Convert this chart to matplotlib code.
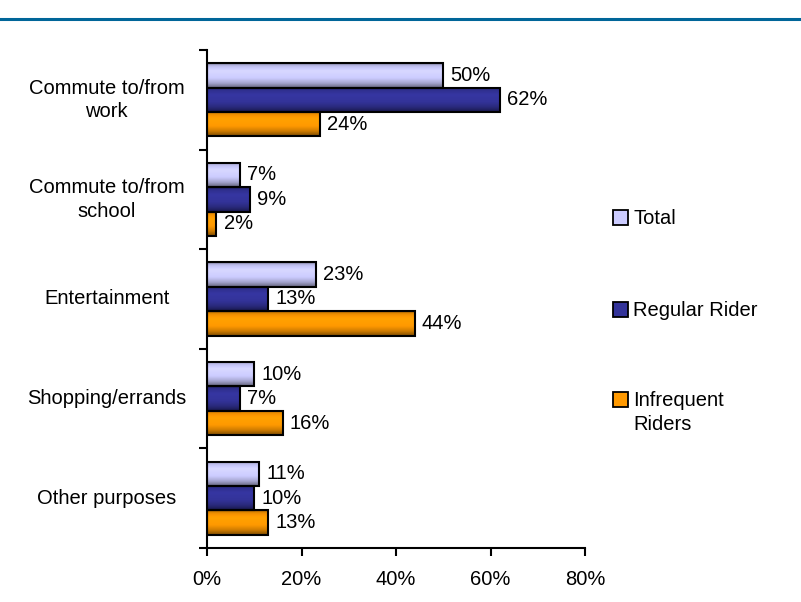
import numpy as np
import matplotlib.pyplot as plt
from matplotlib.colors import to_rgb
from matplotlib.patches import Rectangle
from matplotlib.lines import Line2D

plt.rcParams["font.family"] = ["Liberation Sans", "DejaVu Sans"]

categories = ["Commute to/from\nwork", "Commute to/from\nschool", "Entertainment",
              "Shopping/errands", "Other purposes"]
series_names = ["Total", "Regular Rider", "Infrequent\nRiders"]
total = [50, 7, 23, 10, 11]
regular = [62, 9, 13, 7, 10]
infrequent = [24, 2, 44, 16, 13]
series_values = [total, regular, infrequent]
series_colors = ["#ccccff", "#333399", "#ff9900"]
x_ticks = [0, 20, 40, 60, 80]

FS = 14.5
W, H = 801, 602


def shaded(color, n=40):
    # brightness profile, top -> bottom
    t = np.linspace(0, 1, n)
    f = np.interp(t, [0, 0.1, 0.3, 0.6, 0.8, 1.0], [0.62, 0.92, 1.06, 1.0, 0.82, 0.5])
    base = np.array(to_rgb(color))
    return np.clip(base[None, :] * f[:, None], 0, 1)[:, None, :]


def shade_bar(ax, bar, color):
    """Fill a bar with a horizontal band gradient like the old office charts."""
    x0, y0 = bar.get_x(), bar.get_y()
    w, h = bar.get_width(), bar.get_height()
    if w <= 0:
        return
    im = ax.imshow(shaded(color), extent=(x0, x0 + w, y0, y0 + h), origin="upper",
                   aspect="auto", zorder=2, interpolation="bilinear")
    im.set_clip_path(bar)


fig = plt.figure(figsize=(W / 100, H / 100), dpi=100)
ax = fig.add_axes([207 / W, 1 - 548 / H, 378 / W, 498 / H])

n = len(categories)
pos = np.arange(n)[::-1].astype(float)
bh = 0.245
offsets = [bh, 0, -bh]

for vals, col, off in zip(series_values, series_colors, offsets):
    bars = ax.barh(pos + off, vals, height=bh, color="none", edgecolor="black",
                   linewidth=1.5, zorder=3)
    for b, v in zip(bars, vals):
        shade_bar(ax, b, col)
        ax.text(v + 1.5, b.get_y() + bh / 2, f"{v}%", va="center", ha="left",
                fontsize=FS, color="black")

ax.set_xlim(0, 80)
ax.set_ylim(-0.5, n - 0.5)
ax.set_xticks(x_ticks)
ax.set_xticklabels([f"{t}%" for t in x_ticks], fontsize=FS)
ax.set_yticks(np.arange(-0.5, n, 1.0))
ax.set_yticklabels([])
ax.tick_params(axis="x", direction="out", length=6, width=1.5, pad=10)
ax.tick_params(axis="y", direction="out", length=6, width=1.5)
for s in ["top", "right"]:
    ax.spines[s].set_visible(False)
for s in ["left", "bottom"]:
    ax.spines[s].set_linewidth(1.5)

# category labels centred left of the axis
for p, c in zip(pos, categories):
    ax.text(-0.265, (p + 0.5) / n, c, transform=ax.transAxes, ha="center",
            va="center", fontsize=FS, multialignment="center", linespacing=1.3)

# legend drawn by hand to match the wide spacing of the original
leg_y = [218, 310, 400]
for name, col, y in zip(series_names, series_colors, leg_y):
    fig.add_artist(Rectangle(((613) / W, 1 - (y + 7) / H), 15 / W, 15 / H,
                             transform=fig.transFigure, facecolor=to_rgb(col),
                             edgecolor="black", linewidth=1.3))
    fig.text(633 / W, 1 - (y - 9) / H, name, ha="left", va="top", fontsize=FS,
             linespacing=1.35)

# header rule
fig.add_artist(Line2D([0, 1], [1 - 19 / H, 1 - 19 / H], color="#006699",
                      linewidth=2.2, transform=fig.transFigure))

fig.savefig("out.png", dpi=100)
